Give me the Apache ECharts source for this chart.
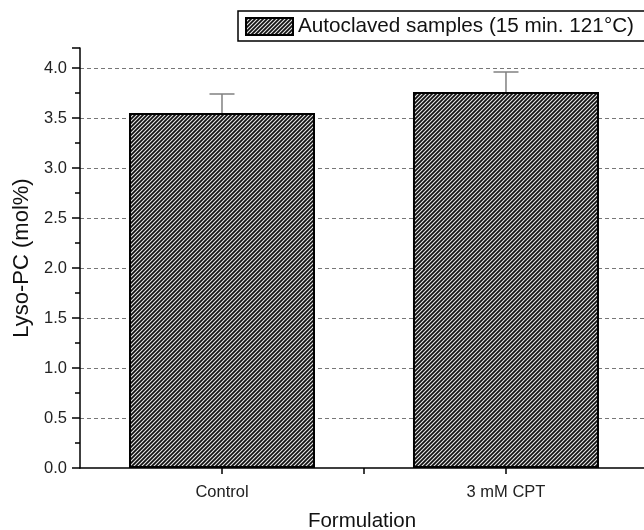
<!DOCTYPE html>
<html>
<head>
<meta charset="utf-8">
<script src="https://cdn.jsdelivr.net/npm/echarts@6/dist/echarts.min.js"></script>
<style>
  html, body { margin: 0; padding: 0; background: #fff; }
  #chart { width: 644px; height: 530px; }
</style>
</head>
<body>
<div id="chart"></div>
<script>
// data
var categories = ['Control', '3 mM CPT'];
var xPos = [1, 2];
var means = [3.55, 3.76];
var errors = [0.19, 0.20];
var seriesName = 'Autoclaved samples (15 min. 121°C)';

// diagonal hatch fill
var tile = document.createElement('canvas');
tile.width = 4;
tile.height = 4;
var ctx = tile.getContext('2d');
ctx.fillStyle = '#111';
ctx.fillRect(0, 0, 4, 4);
ctx.strokeStyle = '#e8e8e8';
ctx.lineWidth = 1.1;
ctx.beginPath();
ctx.moveTo(-1, 5); ctx.lineTo(5, -1);
ctx.moveTo(-1, 1); ctx.lineTo(1, -1);
ctx.moveTo(3, 5); ctx.lineTo(5, 3);
ctx.stroke();
var hatch = { image: tile, repeat: 'repeat' };

var barData = xPos.map(function (x, i) { return [x, means[i]]; });
var errData = xPos.map(function (x, i) { return [x, means[i], means[i] + errors[i]]; });

var myChart = echarts.init(document.getElementById('chart'));

var option = {
    animation: false,
    textStyle: { fontFamily: 'Liberation Sans, Arial, sans-serif' },
    grid: { left: 80, right: 0, top: 48, bottom: 62, outerBoundsMode: 'none', containLabel: false },
    legend: {
        left: 238,
        top: 11,
        padding: [5, 40, 4, 7],
        borderColor: '#000',
        borderWidth: 1.5,
        itemWidth: 47,
        itemHeight: 17,
        data: [{ name: seriesName, icon: 'rect' }],
        textStyle: { fontSize: 20.7, color: '#111' }
    },
    xAxis: {
        type: 'value',
        min: 0.5,
        max: 2.486,
        name: 'Formulation',
        nameLocation: 'middle',
        nameGap: 43,
        nameTextStyle: { fontSize: 20.5, color: '#111' },
        axisLine: { lineStyle: { color: '#000', width: 1.5 } },
        axisTick: { customValues: [1, 1.5, 2], length: 6, lineStyle: { color: '#000', width: 1.5 } },
        axisLabel: {
            customValues: xPos,
            margin: 16,
            fontSize: 16.5,
            color: '#222',
            formatter: function (v) { return categories[xPos.indexOf(v)] || ''; }
        },
        splitLine: { show: false }
    },
    yAxis: {
        type: 'value',
        min: 0,
        max: 4.2,
        interval: 0.5,
        name: 'Lyso-PC (mol%)',
        nameLocation: 'middle',
        nameGap: 47,
        nameTextStyle: { fontSize: 22, color: '#111' },
        axisLine: { show: true, lineStyle: { color: '#000', width: 1.5 } },
        axisTick: { show: true, length: 8, lineStyle: { color: '#000', width: 1.5 } },
        minorTick: { show: true, splitNumber: 2, length: 5, lineStyle: { color: '#000', width: 1.5 } },
        axisLabel: {
            fontSize: 16.5,
            color: '#222',
            margin: 13,
            showMaxLabel: false,
            formatter: function (v) { return v.toFixed(1); }
        },
        splitLine: {
            show: true,
            showMinLine: false,
            showMaxLine: false,
            lineStyle: { color: '#777', type: [4, 3], width: 1 }
        }
    },
    series: [
        {
            name: 'err',
            type: 'custom',
            z: 1,
            data: errData,
            renderItem: function (params, api) {
                var base = api.coord([api.value(0), api.value(1)]);
                var top = api.coord([api.value(0), api.value(2)]);
                var half = 12.5;
                return {
                    type: 'group',
                    children: [
                        { type: 'line', shape: { x1: base[0], y1: base[1], x2: top[0], y2: top[1] },
                          style: { stroke: '#808080', lineWidth: 1.5 } },
                        { type: 'line', shape: { x1: top[0] - half, y1: top[1], x2: top[0] + half, y2: top[1] },
                          style: { stroke: '#808080', lineWidth: 1.5 } }
                    ]
                };
            }
        },
        {
            name: seriesName,
            type: 'bar',
            z: 2,
            barWidth: 186,
            data: barData,
            itemStyle: { color: hatch, borderColor: '#000', borderWidth: 2 }
        }
    ]
};

myChart.setOption(option);
</script>
</body>
</html>
